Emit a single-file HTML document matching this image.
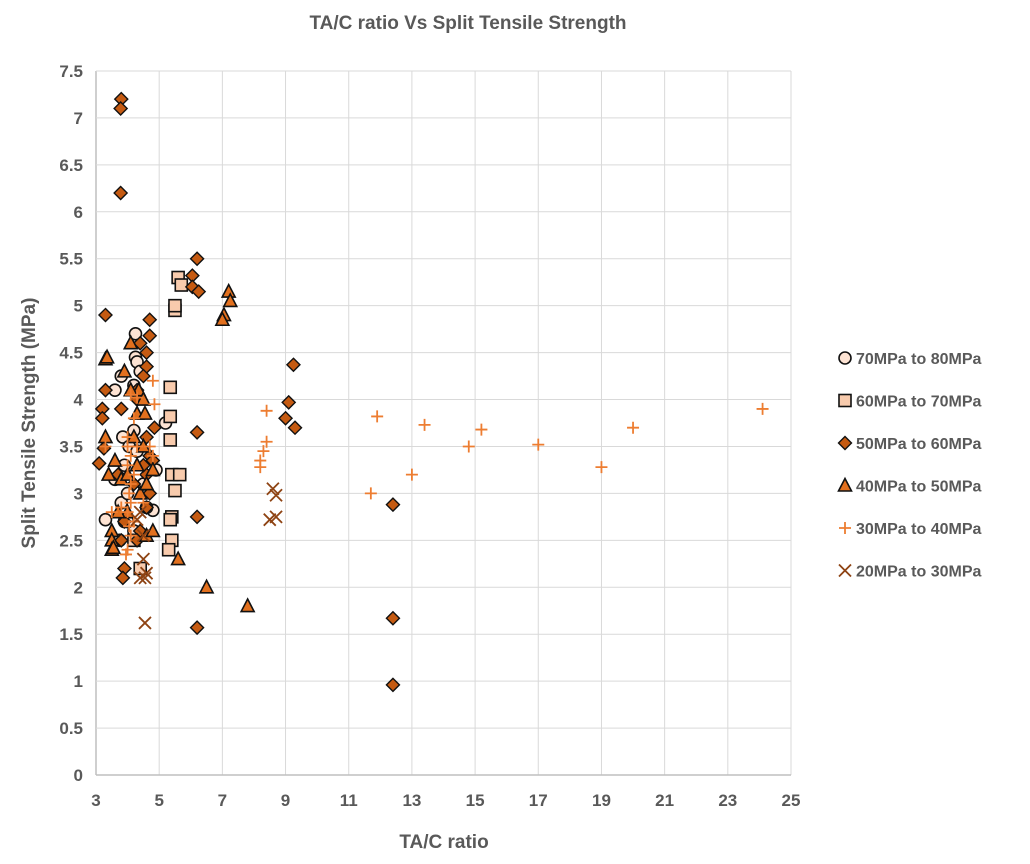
<!DOCTYPE html>
<html><head><meta charset="utf-8"><style>
body{margin:0;background:#fff;font-family:"Liberation Sans",sans-serif}
text{font-family:"Liberation Sans",sans-serif;fill:#595959;font-weight:bold}
</style></head><body>
<svg id="c" width="1030" height="859" xmlns="http://www.w3.org/2000/svg">
<text x="468" y="29" font-size="19" text-anchor="middle">TA/C ratio Vs Split Tensile Strength</text>
<text x="444" y="848" font-size="19" text-anchor="middle">TA/C ratio</text>
<text transform="translate(35,423) rotate(-90)" font-size="19" text-anchor="middle">Split Tensile Strength (MPa)</text>
<g id="grid"></g><g id="marks"></g><g id="legend"></g>
</svg>
<script>
const xTicks=[3,5,7,9,11,13,15,17,19,21,23,25];
const yTicks=[0,0.5,1,1.5,2,2.5,3,3.5,4,4.5,5,5.5,6,6.5,7,7.5];
const seriesNames=["70MPa to 80MPa","60MPa to 70MPa","50MPa to 60MPa","40MPa to 50MPa","30MPa to 40MPa","20MPa to 30MPa"];
const s70x=[3.3,3.8,3.8,4.25,4.25,4.3,4.2,3.85,4.2,4.9,4.8,3.9,3.75,4.05,4.3,4.5,3.6,4.0,4.2,3.9,5.2,4.4,3.6,4.6,4.0];
const s70y=[2.72,2.9,4.25,4.7,4.45,4.4,4.15,3.6,3.67,3.25,2.82,2.7,2.5,3.5,3.45,3.1,3.15,3.0,2.6,3.3,3.75,4.3,4.1,2.85,2.7];
const s60x=[5.6,5.7,5.5,5.5,5.35,5.35,5.35,5.4,5.65,5.5,5.4,5.35,5.4,5.3,4.4,4.2];
const s60y=[5.3,5.22,4.95,5.0,4.13,3.82,3.57,3.2,3.2,3.03,2.75,2.72,2.5,2.4,2.2,2.5];
const s50x=[3.8,3.78,3.78,3.3,6.2,6.05,6.05,6.25,4.7,4.7,4.6,4.6,4.4,3.2,3.2,3.1,3.25,3.3,6.2,6.2,6.2,9.25,9.1,9.0,9.3,12.4,12.4,12.4,4.85,4.7,4.6,4.7,4.6,4.4,4.3,3.8,3.9,3.85,3.9,4.2,4.5,4.3,4.5,3.7,3.8,4.3,4.6,4.8];
const s50y=[7.2,7.1,6.2,4.9,5.5,5.32,5.2,5.15,4.85,4.68,4.5,4.35,4.6,3.9,3.8,3.32,3.48,4.1,3.65,2.75,1.57,4.37,3.97,3.8,3.7,2.88,1.67,0.96,3.7,3.4,3.2,3.0,2.85,2.6,2.5,2.5,2.2,2.1,2.7,3.1,3.3,4.0,4.25,3.2,3.9,4.1,3.6,3.35];
const s40x=[7.2,7.25,7.05,7.0,3.3,3.35,4.1,3.9,4.3,4.35,4.1,4.5,4.55,3.3,3.4,3.6,3.5,3.5,3.5,3.55,3.8,4.0,4.4,4.6,4.8,4.6,4.8,5.6,6.5,7.8,4.2,4.5,4.0,3.7,4.3];
const s40y=[5.15,5.05,4.9,4.85,4.43,4.45,4.6,4.3,3.85,4.1,4.1,4.0,3.85,3.6,3.2,3.35,2.6,2.5,2.4,2.42,3.15,3.2,3.0,3.1,3.25,2.55,2.6,2.3,2.0,1.8,3.6,3.5,2.8,2.8,3.3];
const s30x=[24.1,20.0,19.0,17.0,15.2,14.8,13.4,13.0,11.9,11.7,8.4,8.4,8.3,8.2,8.2,4.8,4.85,4.1,4.3,4.2,4.0,4.1,4.0,4.2,4.1,4.05,4.1,4.0,4.05,4.1,4.0,3.95,4.0,4.3,4.7,4.8,3.5,3.8,3.3,4.5,4.2];
const s30y=[3.9,3.7,3.28,3.52,3.68,3.5,3.73,3.2,3.82,3.0,3.88,3.55,3.45,3.35,3.28,4.2,3.95,4.05,4.02,3.8,3.5,3.4,3.3,3.2,3.1,3.0,2.9,2.8,2.65,2.55,2.4,2.35,3.6,3.5,3.5,3.4,2.8,2.85,3.5,2.9,2.7];
const s20x=[4.55,4.4,4.55,4.6,4.5,4.5,4.3,4.4,8.5,8.7,8.6,8.7];
const s20y=[1.62,2.1,2.1,2.15,2.3,2.55,2.72,2.8,2.72,2.75,3.05,2.98];

const X0=96,X1=791,Y0=775,Y1=71;
const sx=v=>X0+(v-3)/(25-3)*(X1-X0);
const sy=v=>Y0-(v/7.5)*(Y0-Y1);
const NS="http://www.w3.org/2000/svg";
function mk(tag,at,parent){const e=document.createElementNS(NS,tag);for(const k in at)e.setAttribute(k,at[k]);parent.appendChild(e);return e;}
const grid=document.getElementById('grid'),marks=document.getElementById('marks'),leg=document.getElementById('legend');
xTicks.forEach(t=>{
 const l=mk('line',{x1:sx(t),x2:sx(t),y1:Y1,y2:Y0,stroke:t===3?'#bfbfbf':'#d9d9d9','stroke-width':t===3?1.5:1},grid);
 
 
 const tx=mk('text',{x:sx(t),y:Y0+31,'font-size':17,'text-anchor':'middle'},grid);tx.textContent=t;
 
 
});
yTicks.forEach(t=>{
 const l=mk('line',{x1:X0,x2:X1,y1:sy(t),y2:sy(t),stroke:t===0?'#bfbfbf':'#d9d9d9','stroke-width':t===0?1.5:1},grid);
 
 
 const tx=mk('text',{x:X0-13,y:sy(t)+6,'font-size':17,'text-anchor':'end'},grid);tx.textContent=t;
 
 
});
function marker(kind,x,y,parent){
 let e;
 if(kind===0)e=mk('circle',{cx:x,cy:y,r:6,fill:'#fde3d3',stroke:'#111','stroke-width':1.6},parent);
 else if(kind===1)e=mk('rect',{x:x-6,y:y-6,width:12,height:12,fill:'#f8cbad',stroke:'#111','stroke-width':1.6},parent);
 else if(kind===2)e=mk('polygon',{points:`${x},${y-6.5} ${x+6.5},${y} ${x},${y+6.5} ${x-6.5},${y}`,fill:'#c55a11',stroke:'#111','stroke-width':1.4},parent);
 else if(kind===3)e=mk('polygon',{points:`${x},${y-7} ${x+6.5},${y+5.5} ${x-6.5},${y+5.5}`,fill:'#e2701e',stroke:'#111','stroke-width':1.6},parent);
 else if(kind===4)e=mk('path',{d:`M${x-6},${y}H${x+6}M${x},${y-6}V${y+6}`,stroke:'#ed7d31','stroke-width':1.8,fill:'none'},parent);
 else e=mk('path',{d:`M${x-6},${y-6}L${x+6},${y+6}M${x+6},${y-6}L${x-6},${y+6}`,stroke:'#8e4313','stroke-width':1.8,fill:'none'},parent);
 return e;
}
const allX=[s70x,s60x,s50x,s40x,s30x,s20x],allY=[s70y,s60y,s50y,s40y,s30y,s20y];
const names=['point-70-80','point-60-70','point-50-60','point-40-50','point-30-40','point-20-30'];
[0,1,2,3,4,5].forEach(k=>{
 allX[k].forEach((v,i)=>{
  const e=marker(k,sx(v),sy(allY[k][i]),marks);
  
  
 });
});
seriesNames.forEach((n,k)=>{
 const y=358+k*42.5;
 const g=mk('g',{},leg);
 
 
 marker(k,845,y,g);
 const t=mk('text',{x:856,y:y+6,'font-size':16},g);t.textContent=n;
});
</script>
</body></html>
